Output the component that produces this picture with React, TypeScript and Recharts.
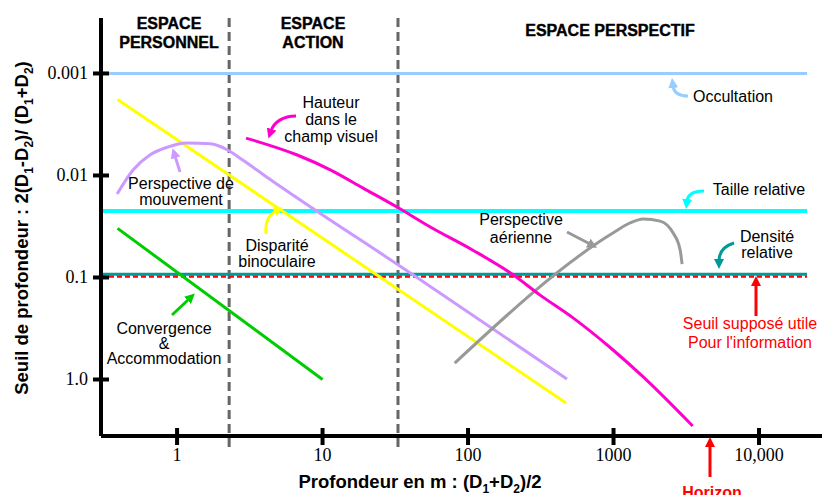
import { LineChart, Line, XAxis, YAxis, ReferenceLine } from "recharts";

const W = 822;
const H = 495;
const TOP = 18;
const Y_AXIS_W = 101;
const X_AXIS_H = 59;
const BOTTOM = H - X_AXIS_H;

const SANS = "'Liberation Sans', Arial, sans-serif";
const SERIF = "'Liberation Serif', 'Times New Roman', serif";

// depth in metres (log), threshold (log, reversed)
const X_DOMAIN: [number, number] = [0.3, 27100];
const Y_DOMAIN: [number, number] = [0.000286, 3.58];

const xTicks = [1, 10, 100, 1000, 10000];
const xTickLabels = ["1", "10", "100", "1000", "10,000"];
const yTicks = [0.001, 0.01, 0.1, 1];
const yTickLabels = ["0.001", "0.01", "0.1", "1.0"];

// limits between personal / action / vista space
const spaceBounds = [2.28, 33];
const spaceBoundSpan = [0.000286, 5.1];

// constant thresholds
const levelSpan = [0.3, 21400];
const occultation = 0.001;
const tailleRelative = 0.0223;
const densiteRelative = 0.093;
const seuilUtile = 0.098;

const convergenceDepth = [0.39, 10];
const convergenceSeuil = [0.033, 1.0];

const disparityDepth = [0.39, 472];
const disparitySeuil = [0.0018, 1.7];

const motionDepth = [0.387, 0.5, 0.65, 0.85, 1.17, 1.69, 2.21, 2.84, 4.15, 39.9, 479];
const motionSeuil = [0.0152, 0.0088, 0.0063, 0.0053, 0.0048, 0.0049, 0.0056, 0.0071, 0.0104, 0.09, 0.99];

const heightDepth = [2.98, 6.7, 11.3, 19, 32.5, 55, 108, 204, 313, 527, 993, 1600, 3500];
const heightSeuil = [0.0043, 0.0063, 0.0088, 0.0133, 0.0204, 0.032, 0.054, 0.094, 0.149, 0.249, 0.514, 0.944, 2.86];

const aerialDepth = [81, 990, 1300, 1600, 2090, 2570, 2870, 2960];
const aerialSeuil = [0.69, 0.0367, 0.0292, 0.0267, 0.028, 0.0367, 0.0537, 0.074];

const zip = (d: number[], t: number[]) => d.map((v, i) => ({ d: v, t: t[i] }));

const COLORS = {
  occ: "#99ccff",
  taille: "#00ffff",
  densite: "#009999",
  red: "#ff0000",
  yellow: "#ffff00",
  green: "#00cc00",
  lav: "#cc99ff",
  mag: "#ff00cc",
  gray: "#999999",
  sep: "#666666",
};

function XTick({ x, payload }: any) {
  const i = xTicks.indexOf(payload.value);
  return (
    <g>
      <line x1={x} x2={x} y1={BOTTOM - 8} y2={BOTTOM + 9} stroke="#000" strokeWidth={4} />
      <text x={x} y={BOTTOM + 19} textAnchor="middle" dominantBaseline="central" fontFamily={SERIF} fontSize={18} fill="#000">
        {i >= 0 ? xTickLabels[i] : payload.value}
      </text>
    </g>
  );
}

function YTick({ y, payload }: any) {
  const i = yTicks.indexOf(payload.value);
  return (
    <g>
      <line x1={93} x2={Y_AXIS_W + 8} y1={y} y2={y} stroke="#000" strokeWidth={4} />
      <text x={88} y={y} textAnchor="end" dominantBaseline="central" fontFamily={SERIF} fontSize={18} fill="#000">
        {i >= 0 ? yTickLabels[i] : payload.value}
      </text>
    </g>
  );
}

function Note({ x, y, lines, color = "#000", step = 17, bold = false, size = 16 }: any) {
  return (
    <text x={x} textAnchor="middle" fontFamily={SANS} fontSize={size} fill={color} fontWeight={bold ? 700 : 400}>
      {lines.map((l: string, i: number) => (
        <tspan key={i} x={x} y={y + i * step} dominantBaseline="central">
          {l}
        </tspan>
      ))}
    </text>
  );
}

// "_" marks a subscript piece
function Formula({ parts }: { parts: string[] }) {
  let down = false;
  return (
    <>
      {parts.map((p, i) => {
        const isSub = p.startsWith("_");
        let dy = 0;
        if (isSub && !down) { dy = 5; down = true; }
        else if (!isSub && down) { dy = -5; down = false; }
        return (
          <tspan key={i} dy={dy} fontSize={isSub ? 12 : undefined}>
            {isSub ? p.slice(1) : p}
          </tspan>
        );
      })}
    </>
  );
}

const arrows: { key: keyof typeof COLORS; d: string }[] = [
  { key: "mag", d: "M296,116 C283,116 274,122 271,131" },
  { key: "lav", d: "M180,172 L175,156" },
  { key: "yellow", d: "M266,234 C265,222 268,215 276,211" },
  { key: "green", d: "M172,315 L189,299" },
  { key: "occ", d: "M688,96 C680,96 674,94 673,86" },
  { key: "taille", d: "M704,191 C695,191 688,193 687,201" },
  { key: "gray", d: "M567,232 L590,244" },
  { key: "densite", d: "M734,243 C724,246 719,252 719,261" },
  { key: "red", d: "M756,316 L756,284" },
  { key: "red", d: "M710,477 L710,445" },
];

function Overlay() {
  return (
    <svg width={W} height={H} style={{ position: "absolute", left: 0, top: 0, pointerEvents: "none" }}>
      <defs>
        {Object.entries(COLORS).map(([k, c]) => (
          <marker key={k} id={`ah-${k}`} viewBox="0 0 10 10" refX={2} refY={5} markerWidth={10} markerHeight={10} markerUnits="userSpaceOnUse" orient="auto">
            <path d="M0,0 L10,5 L0,10 z" fill={c} />
          </marker>
        ))}
      </defs>

      {/* space headers */}
      <g fontFamily={SANS} fontSize={16} fontWeight={700} fill="#000" stroke="#000" strokeWidth={0.4} textAnchor="middle">
        <text x={169} y={23} dominantBaseline="central">ESPACE</text>
        <text x={169} y={42} dominantBaseline="central">PERSONNEL</text>
        <text x={313} y={23} dominantBaseline="central">ESPACE</text>
        <text x={313} y={42} dominantBaseline="central">ACTION</text>
        <text x={610} y={30} dominantBaseline="central">ESPACE PERSPECTIF</text>
      </g>

      {arrows.map((a, i) => (
        <path key={i} d={a.d} fill="none" stroke={COLORS[a.key]} strokeWidth={3} markerEnd={`url(#ah-${a.key})`} />
      ))}

      <Note x={331} y={102} lines={["Hauteur", "dans le", "champ visuel"]} />
      <Note x={181} y={183} step={16} lines={["Perspective de", "mouvement"]} />
      <Note x={277} y={245} step={16} lines={["Disparité", "binoculaire"]} />
      <Note x={164} y={328} step={15} lines={["Convergence", "&", "Accommodation"]} />
      <Note x={733} y={96} lines={["Occultation"]} />
      <Note x={759} y={189} lines={["Taille relative"]} />
      <Note x={521} y={219} step={18} lines={["Perspective", "aérienne"]} />
      <Note x={767} y={236} step={16} lines={["Densité", "relative"]} />
      <Note x={750} y={323} step={19} color={COLORS.red} lines={["Seuil supposé utile", "Pour l'information"]} />
      <Note x={712} y={492} bold color={COLORS.red} lines={["Horizon"]} />

      {/* axis titles */}
      <text x={420} y={488} textAnchor="middle" fontFamily={SANS} fontSize={18.5} fontWeight={700} fill="#000">
        <Formula parts={["Profondeur en m : (D", "_1", "+D", "_2", ")/2"]} />
      </text>
      <text
        x={22}
        y={228}
        transform="rotate(-90 22 228)"
        textAnchor="middle"
        fontFamily={SANS}
        fontSize={18.5}
        fontWeight={700}
        fill="#000"
      >
        <tspan x={22} y={234}>
          <Formula parts={["Seuil de profondeur : 2(D", "_1", "-D", "_2", ")/ (D", "_1", "+D", "_2", ")"]} />
        </tspan>
      </text>
    </svg>
  );
}

export default function App() {
  const hLevels = [
    { v: occultation, c: COLORS.occ, w: 3, dash: undefined },
    { v: tailleRelative, c: COLORS.taille, w: 4, dash: undefined },
    { v: seuilUtile, c: COLORS.red, w: 2.5, dash: "5 3" },
    { v: densiteRelative, c: COLORS.densite, w: 3, dash: undefined },
  ];
  return (
    <div style={{ position: "absolute", left: 0, top: 0, width: W, height: H, background: "#fff" }}>
      <LineChart width={W} height={H} margin={{ top: TOP, right: 0, bottom: 0, left: 0 }}>
        <XAxis
          dataKey="d"
          type="number"
          scale="log"
          domain={X_DOMAIN}
          allowDataOverflow
          ticks={xTicks}
          interval={0}
          height={X_AXIS_H}
          axisLine={{ stroke: "#000", strokeWidth: 4 }}
          tickLine={false}
          tick={<XTick />}
        />
        <YAxis
          dataKey="t"
          type="number"
          scale="log"
          domain={Y_DOMAIN}
          allowDataOverflow
          reversed
          ticks={yTicks}
          interval={0}
          width={Y_AXIS_W}
          axisLine={{ stroke: "#000", strokeWidth: 4 }}
          tickLine={false}
          tick={<YTick />}
        />
        {spaceBounds.map((b, i) => (
          <ReferenceLine
            key={`sb${i}`}
            segment={[
              { x: b, y: spaceBoundSpan[0] },
              { x: b, y: spaceBoundSpan[1] },
            ]}
            stroke={COLORS.sep}
            strokeWidth={3}
            strokeDasharray="9 5"
            ifOverflow="visible"
          />
        ))}
        {hLevels.map((l, i) => (
          <ReferenceLine
            key={`hl${i}`}
            segment={[
              { x: levelSpan[0], y: l.v },
              { x: levelSpan[1], y: l.v },
            ]}
            stroke={l.c}
            strokeWidth={l.w}
            strokeDasharray={l.dash}
            ifOverflow="visible"
          />
        ))}
        <Line data={zip(convergenceDepth, convergenceSeuil)} dataKey="t" type="linear" stroke={COLORS.green} strokeWidth={3} dot={false} isAnimationActive={false} />
        <Line data={zip(disparityDepth, disparitySeuil)} dataKey="t" type="linear" stroke={COLORS.yellow} strokeWidth={3} dot={false} isAnimationActive={false} />
        <Line data={zip(motionDepth, motionSeuil)} dataKey="t" type="monotone" stroke={COLORS.lav} strokeWidth={3} dot={false} isAnimationActive={false} />
        <Line data={zip(aerialDepth, aerialSeuil)} dataKey="t" type="monotone" stroke={COLORS.gray} strokeWidth={3} dot={false} isAnimationActive={false} />
        <Line data={zip(heightDepth, heightSeuil)} dataKey="t" type="monotone" stroke={COLORS.mag} strokeWidth={3} dot={false} isAnimationActive={false} />
      </LineChart>
      <Overlay />
    </div>
  );
}
